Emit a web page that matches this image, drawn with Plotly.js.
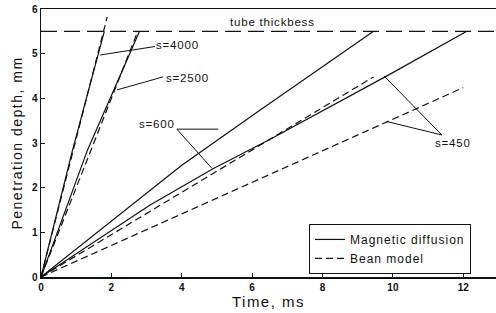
<!DOCTYPE html>
<html>
<head>
<meta charset="utf-8">
<script src="https://cdn.plot.ly/plotly-3.0.1.min.js"></script>
<style>
  html, body { margin: 0; padding: 0; background: #fff; }
  #chart { width: 496px; height: 313px; }
  .xtitle, .ytitle { letter-spacing: 1.5px; }
  .legendtext { letter-spacing: 1px; }
  .annotation-text { letter-spacing: 0.8px; }
</style>
</head>
<body>
<div id="chart"></div>
<script>
// ---- data ----
const tubeThickness = 5.5;
const tubeX = [0, 13];

const md4000X = [0, 0.9, 1.8];
const md4000Y = [0, 2.85, 5.5];
const bean4000X = [0, 1.88];
const bean4000Y = [0, 5.82];

const md2500X = [0, 1.32, 2.8];
const md2500Y = [0, 2.84, 5.5];
const bean2500X = [0, 2.75];
const bean2500Y = [0, 5.5];

const md600X = [0, 3.1, 4.0, 6.23, 8.69, 9.45];
const md600Y = [0, 1.95, 2.5, 3.74, 5.08, 5.5];
const bean600X = [0, 9.45];
const bean600Y = [0, 4.48];

const md450X = [0, 3.1, 4.9, 6.5, 9.87, 12.1];
const md450Y = [0, 1.61, 2.43, 3.08, 4.52, 5.5];
const bean450X = [0, 12.0];
const bean450Y = [0, 4.24];

const xTicks = [0, 2, 4, 6, 8, 10, 12];
const yTicks = [0, 1, 2, 3, 4, 5, 6];

// labels: [text, x, y]
const labels = [
  ["s=4000", 3.87, 5.19],
  ["s=2500", 4.15, 4.45],
  ["s=600", 3.30, 3.43],
  ["s=450", 11.72, 3.01],
  ["tube thickbess", 6.58, 5.72]
];
// leader lines: [x0, y0, x1, y1]
const leaders = [
  [3.24, 5.16, 1.68, 4.97],
  [3.47, 4.48, 2.16, 4.19],
  [3.86, 3.31, 5.04, 3.31],
  [3.86, 3.31, 4.86, 2.43],
  [11.39, 3.18, 9.75, 4.50],
  [11.39, 3.18, 9.83, 3.48]
];

// ---- styles ----
const solid = {color: '#111', width: 1.2};
const dashed = {color: '#111', width: 1.2, dash: '7px,4px'};

function tr(x, y, line, name, show) {
  return {x: x, y: y, type: 'scatter', mode: 'lines', line: line,
          name: name || '', showlegend: !!show, hoverinfo: 'skip'};
}

const traces = [
  tr(tubeX, tubeX.map(() => tubeThickness), {color: '#111', width: 1.2, dash: '16px,7px'}),
  tr(md4000X, md4000Y, solid, 'Magnetic diffusion', true),
  tr(bean4000X, bean4000Y, dashed, 'Bean model', true),
  tr(md2500X, md2500Y, solid),
  tr(bean2500X, bean2500Y, dashed),
  tr(md600X, md600Y, solid),
  tr(bean600X, bean600Y, dashed),
  tr(md450X, md450Y, solid),
  tr(bean450X, bean450Y, dashed)
];

const font = 'Liberation Sans, Arial, sans-serif';

const layout = {
  width: 496, height: 313,
  margin: {l: 41, r: 0, t: 9, b: 36},
  paper_bgcolor: '#fff', plot_bgcolor: '#fff',
  font: {family: font, color: '#111'},
  showlegend: true,
  legend: {
    x: 0.589, y: 0.198, xanchor: 'left', yanchor: 'top',
    bordercolor: '#111', borderwidth: 1, bgcolor: '#fff',
    font: {family: font, size: 12, color: '#111'},
    tracegroupgap: 0, itemwidth: 30
  },
  xaxis: {
    range: [0, 12.93], tickvals: xTicks, ticktext: xTicks.map(String),
    ticks: 'inside', ticklen: 4, tickcolor: '#111',
    showline: true, linecolor: '#111', linewidth: 1.5, mirror: true,
    showgrid: false, zeroline: false,
    tickfont: {family: font, size: 10, color: '#111', weight: 'bold'},
    title: {text: 'Time, ms', font: {family: font, size: 15, color: '#111'}, standoff: 2}
  },
  yaxis: {
    range: [0, 6], tickvals: yTicks, ticktext: yTicks.map(String),
    ticks: 'inside', ticklen: 4, tickcolor: '#111',
    showline: true, linecolor: '#111', linewidth: 1.5,
    showgrid: false, zeroline: false,
    tickfont: {family: font, size: 10, color: '#111', weight: 'bold'},
    title: {text: 'Penetration depth, mm', font: {family: font, size: 14, color: '#111'}, standoff: 6}
  },
  annotations: labels.map(l => ({
    text: l[0], x: l[1], y: l[2], xref: 'x', yref: 'y', showarrow: false,
    font: {family: font, size: 11.5, color: '#111'}
  })),
  shapes: leaders.map(s => ({
    type: 'line', xref: 'x', yref: 'y', x0: s[0], y0: s[1], x1: s[2], y1: s[3],
    line: {color: '#111', width: 1}
  }))
};

Plotly.newPlot('chart', traces, layout, {displayModeBar: false, staticPlot: true});
</script>
</body>
</html>
